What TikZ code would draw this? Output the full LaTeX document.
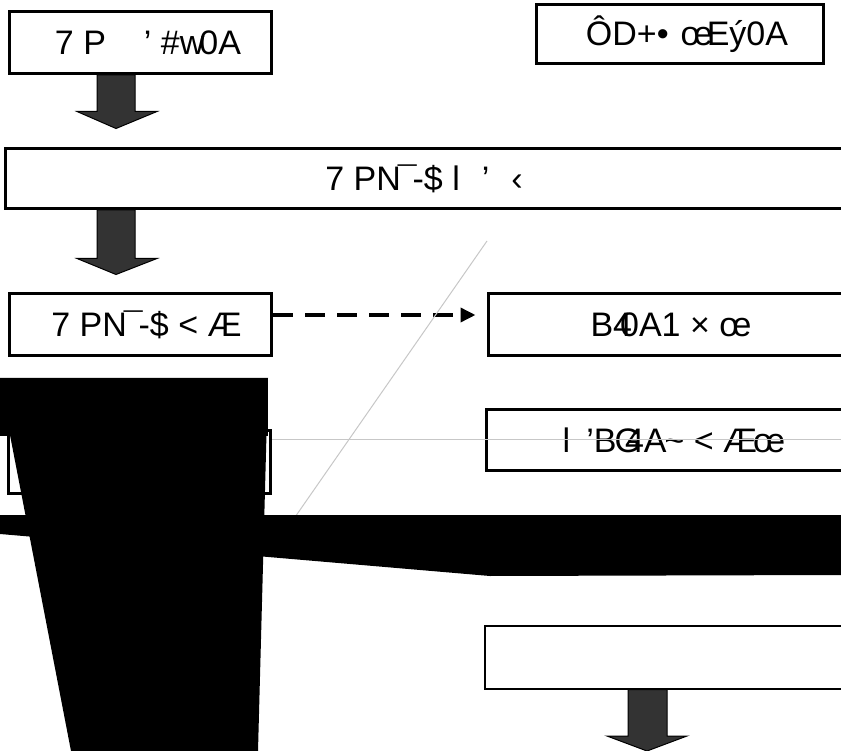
\documentclass[tikz,border=0pt]{standalone}
\usepackage{fontspec}
\setmainfont{Liberation Sans}
\usetikzlibrary{arrows.meta}

\begin{document}
\begin{tikzpicture}[x=1pt, y=-1pt,
    box/.style = {draw, line width=3pt, inner sep=0pt, font=\fontsize{34}{40}\selectfont},
    blockarrow/.style = {draw=black, line width=1pt, fill=black!80, line join=miter},
    link/.style = {line width=3.5pt, dash pattern=on 20pt off 12pt, -{Triangle[length=15pt, width=14pt]}},
    guide/.style = {draw=black!22, line width=1pt}]%
    \useasboundingbox (0, 0) rectangle (841, 751);
    \clip (0, 0) rectangle (841, 751);
    \node[box, minimum width=262pt, minimum height=62pt] (start) at (140.5, 42.5) {\hspace*{15pt}7 P\hspace{38pt}’ \#w\kern-5pt0A};
    \node[box, minimum width=287pt, minimum height=59pt] (legend) at (680, 34) {\hspace*{14pt}ÔD+•\hspace{12pt}œ\kern-6pt Eý0A};
    \node[box, minimum width=837pt, minimum height=60pt] (step) at (424, 178.5) {7 PN\kern-3pt¯\kern-4pt-\$ l\hspace{22pt}’\hspace{22pt}‹};
    \node[box, minimum width=262pt, minimum height=62pt] (mid) at (140.5, 324.5) {\hspace*{12pt}7 PN\kern-3pt¯\kern-4pt-\$ < Æ};
    \node[box, minimum width=365pt, minimum height=62pt] (res) at (671, 324.5) {B4\kern-12pt0A1 × œ};
    \node[box, minimum width=262pt, minimum height=63pt] (hid) at (139.5, 462) {};
    \node[box, minimum width=375pt, minimum height=61pt] (chk) at (674, 440) {l\hspace{16pt}’B\kern-2pt G\kern-16pt 4A\kern-2pt\textasciitilde{} < Æ\kern-4ptœ};
    \node[box, line width=2pt, minimum width=374pt, minimum height=63pt] (out) at (671.5, 657) {};

    \draw[blockarrow] ([xshift=-43.5pt]start.south) -- ++(0, 36.5) -- ++(-20, 0) -- ++(39, 17) -- ++(41, -17) -- ++(-22, 0) -- ++(0, -36.5) -- cycle;
    \draw[blockarrow] ([xshift=-327pt]step.south) -- ++(0, 48.5) -- ++(-20, 0) -- ++(39, 16) -- ++(41, -16) -- ++(-22, 0) -- ++(0, -48.5) -- cycle;
    \draw[blockarrow] ([xshift=-43.5pt]out.south) -- ++(0, 46.5) -- ++(-21, 0) -- ++(40, 15) -- ++(40, -15) -- ++(-20, 0) -- ++(0, -46.5) -- cycle;
    \draw[link, shorten >=11.5pt] ([yshift=9.5pt]mid.east) -- ([yshift=9.5pt]res.west);

    \draw[guide] (487, 241) -- (293, 520);
    \draw[guide] (272, 439) -- (841, 439);

    \fill (0, 378) rectangle (268, 436);
    \fill (-1, 378) -- (268, 378) -- (258, 751) -- (71, 751) -- cycle;
    \fill (0, 515) -- (841, 515) -- (841, 575) -- (490, 576) -- (0, 534) -- cycle;
\end{tikzpicture}
\end{document}
